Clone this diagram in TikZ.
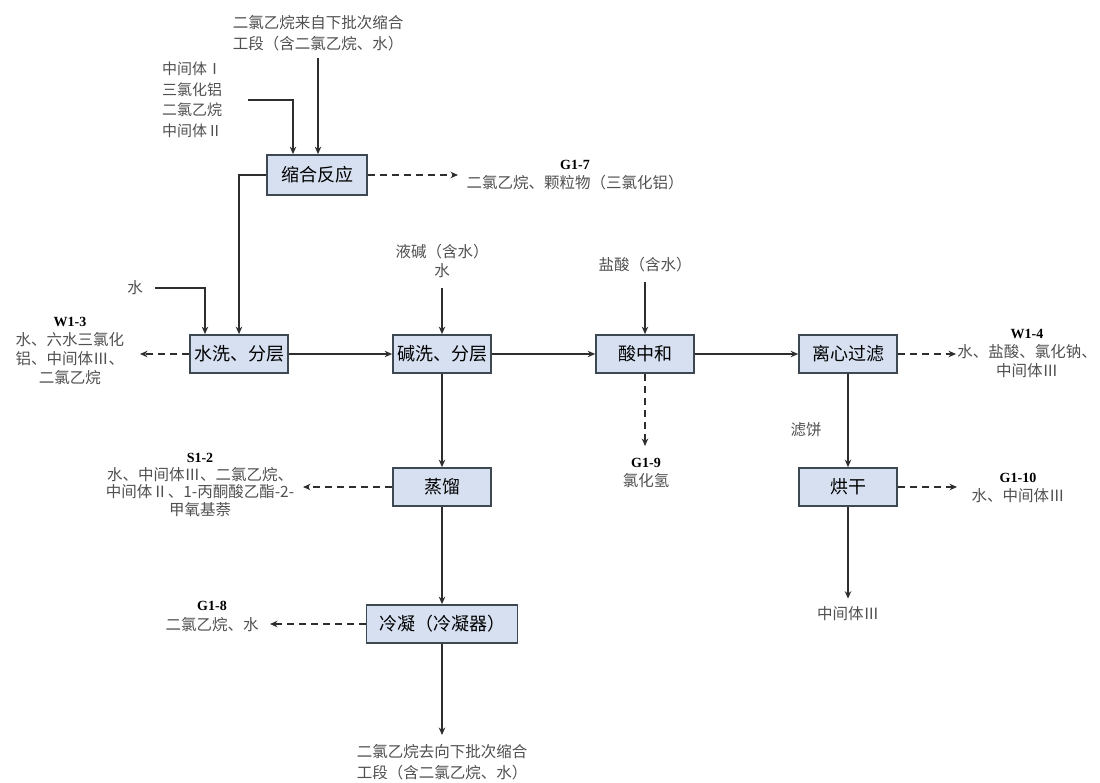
\documentclass[tikz,border=0pt]{standalone}
\usepackage{fontspec}
\setmainfont{Liberation Serif}
\newfontfamily\cjk{Noto Sans CJK SC}
\usetikzlibrary{arrows.meta,positioning}
\definecolor{boxfill}{HTML}{D6E0F1}
\definecolor{boxline}{HTML}{3E4852}
\definecolor{flowline}{HTML}{2E2E2E}
\definecolor{labeltext}{HTML}{505050}
\tikzset{
  proc/.style={draw=boxline,line width=1.7pt,fill=boxfill,minimum width=98pt,
    minimum height=38pt,inner sep=0pt,font=\cjk\fontsize{18}{20}\selectfont},
  lbl/.style={align=center,text=labeltext,inner sep=0pt,
    font=\cjk\fontsize{15.5}{19}\selectfont},
  flow/.style={draw=flowline,line width=1.3pt,-{Stealth[length=7.5pt,width=6.5pt]}},
  vent/.style={flow,dash pattern=on 7pt off 5pt}
}
\newcommand{\tagcode}[1]{{\rmfamily\bfseries\fontsize{14}{19}\selectfont\color{black}#1}}

\begin{document}
\begin{tikzpicture}[x=1pt,y=-1pt]
\useasboundingbox (0,0) rectangle (1100,783);
% 工序方框
\node[proc,minimum width=100pt,minimum height=40pt] (suohe) at (317,175) {缩合反应};
\node[proc] (shuixi) at (239,354) {水洗、分层};
\node[proc] (jianxi) at (442,354) {碱洗、分层};
\node[proc] (zhonghe) at (645,354) {酸中和};
\node[proc] (lixin) at (848,354) {离心过滤};
\node[proc] (zhengliu) at (442,487) {蒸馏};
\node[proc] (honggan) at (848,487) {烘干};
\node[proc,minimum width=151pt] (lengning) at (442,624) {冷凝（冷凝器）};
% 进料说明
\node[lbl,font=\cjk\fontsize{15.5}{20.5}\selectfont] (dceback) at (318,33)
  {二氯乙烷来自下批次缩合\\工段（含二氯乙烷、水）};
\node[lbl,font=\cjk\fontsize{15}{20.5}\selectfont] (feed) at (192,100)
  {中间体Ⅰ\\三氯化铝\\二氯乙烷\\中间体Ⅱ};
\node[lbl] (water) at (135,288) {水};
\node[lbl,font=\cjk\fontsize{15.5}{18.5}\selectfont] (lye) at (442,261) {液碱（含水）\\水};
\node[lbl] (hcl) at (645,265) {盐酸（含水）};
\node[lbl] (cake) at (806,430) {滤饼};
% 排放说明
\node[lbl] (g7) at (575,175) {\tagcode{G1-7}\\二氯乙烷、颗粒物（三氯化铝）};
\node[lbl] (w13) at (70,351) {\tagcode{W1-3}\\水、六水三氯化\\铝、中间体Ⅲ、\\二氯乙烷};
\node[lbl] (w14) at (1027,353) {\tagcode{W1-4}\\水、盐酸、氯化钠、\\中间体Ⅲ};
\node[lbl,font=\cjk\fontsize{15.5}{18.5}\selectfont] (g9) at (646,473) {\tagcode{G1-9}\\氯化氢};
\node[lbl,font=\cjk\fontsize{15.5}{18.5}\selectfont] (g10) at (1018,488) {\tagcode{G1-10}\\水、中间体Ⅲ};
\node[lbl,font=\cjk\fontsize{15.5}{17.5}\selectfont] (s12) at (200,485)
  {\tagcode{S1-2}\\水、中间体Ⅲ、二氯乙烷、\\中间体Ⅱ、1-丙酮酸乙酯-2-\\甲氧基萘};
\node[lbl,font=\cjk\fontsize{15.5}{20}\selectfont] (g8) at (212,617) {\tagcode{G1-8}\\二氯乙烷、水};
\node[lbl] (product) at (848,614) {中间体Ⅲ};
\node[lbl,font=\cjk\fontsize{15.5}{21}\selectfont] (dceout) at (442,762)
  {二氯乙烷去向下批次缩合\\工段（含二氯乙烷、水）};
% 箭头端点
\coordinate (g7in) at (458,178);
\coordinate (w13in) at (140,354);
\coordinate (w14in) at (956,354);
\coordinate (g9in) at (645,446);
\coordinate (g10in) at (957,487);
\coordinate (s12in) at (303,487);
\coordinate (g8in) at (270,624);
% 主物料流
\draw[flow] ([yshift=-7pt]dceback.south) -- (dceback.south |- suohe.north);
\draw[flow] ([xshift=26pt]feed.east) -| ([xshift=-24pt]suohe.north);
\draw[flow] (suohe.west) -| (shuixi.north);
\draw[flow] ([xshift=12pt]water.east) -| ([xshift=-34pt]shuixi.north);
\draw[flow] (shuixi) -- (jianxi);
\draw[flow] (jianxi) -- (zhonghe);
\draw[flow] (zhonghe) -- (lixin);
\draw[flow] ([yshift=-10pt]lye.south) -- (jianxi.north);
\draw[flow] ([yshift=-9pt]hcl.south) -- (zhonghe.north);
\draw[flow] (jianxi) -- (zhengliu);
\draw[flow] (zhengliu) -- (lengning);
\draw[flow] (lengning.south) -- ([yshift=9pt]dceout.north);
\draw[flow] (lixin) -- (honggan);
\draw[flow] (honggan.south) -- ([yshift=8pt]product.north);
% 排放
\draw[vent] (suohe.east) -- (suohe.east -| g7in);
\draw[vent] (shuixi) -- (w13in);
\draw[vent] (lixin) -- (w14in);
\draw[vent] (zhonghe) -- (g9in);
\draw[vent] (honggan) -- (g10in);
\draw[vent] (zhengliu) -- (s12in);
\draw[vent] (lengning) -- (g8in);
\end{tikzpicture}
\end{document}
